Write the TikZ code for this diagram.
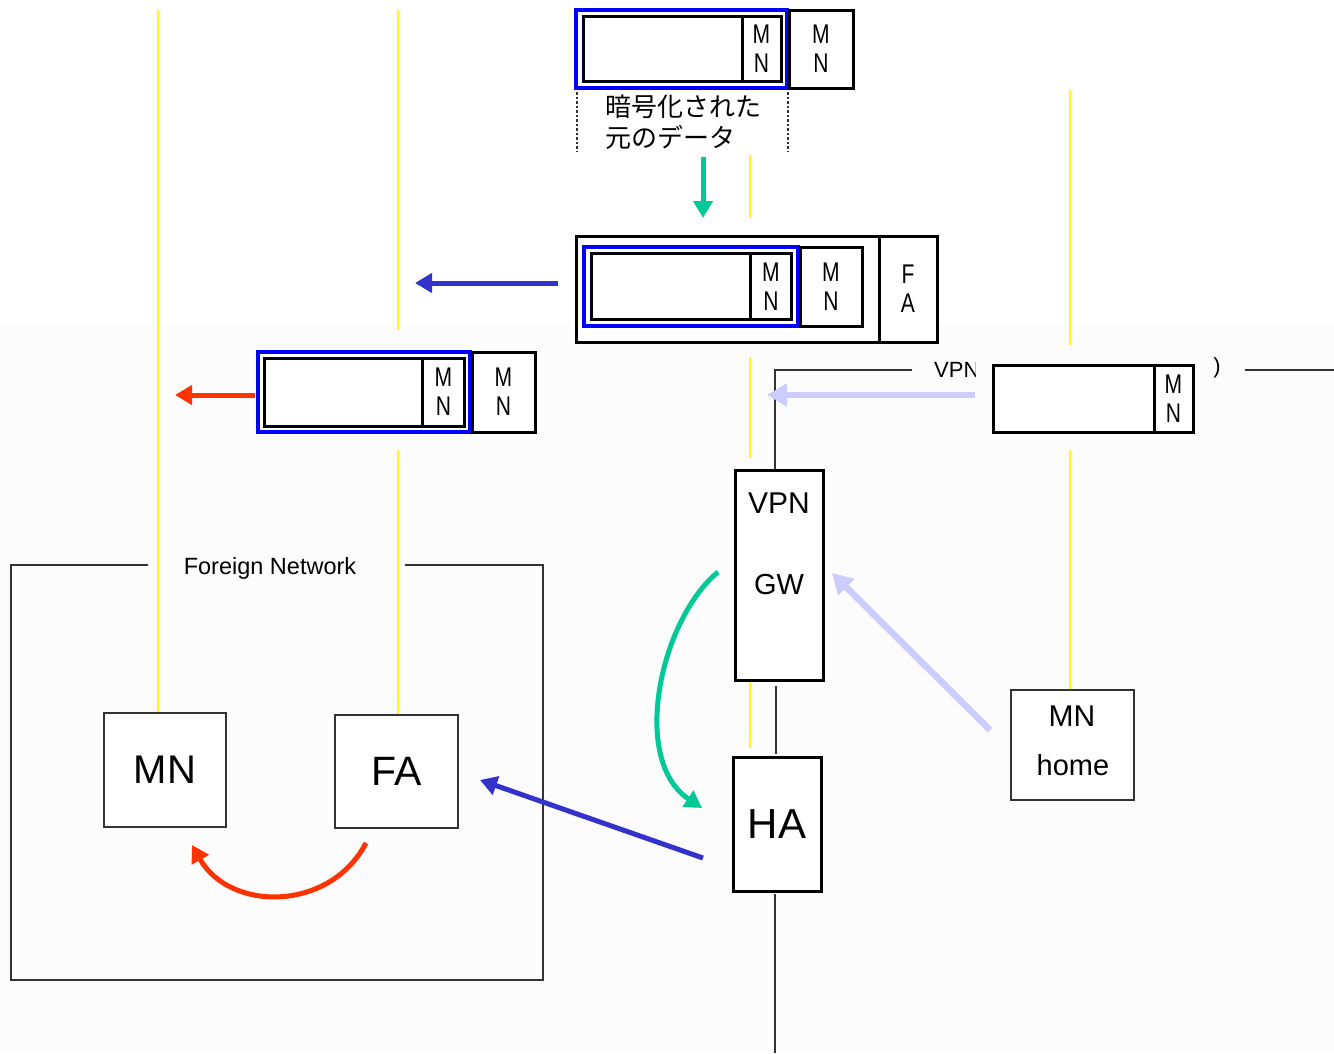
\documentclass[tikz,border=0pt]{standalone}
\usepackage{fontspec}
\setmainfont{Liberation Sans}
\newfontfamily\cjk{Noto Sans CJK JP}
\newfontfamily\narrowf[FakeStretch=0.78]{Liberation Sans}
\usetikzlibrary{arrows.meta}
\definecolor{pktblue}{HTML}{0000FF}
\definecolor{arrblue}{HTML}{3333CC}
\definecolor{arrred}{HTML}{FF3300}
\definecolor{arrgreen}{HTML}{00C896}
\definecolor{arrlav}{HTML}{CCCCFF}
\definecolor{ylw}{HTML}{FFFF00}
\definecolor{bgg}{HTML}{FCFCFC}
\definecolor{frm}{HTML}{333333}
\tikzset{
  thickbox/.style={draw=black, line width=3pt, fill=white, inner sep=0pt, outer sep=0pt},
  thinbox/.style={draw=frm, line width=1.6pt, fill=white, inner sep=0pt, outer sep=0pt},
  bluebox/.style={draw=pktblue, line width=3.5pt, fill=white, inner sep=0pt, outer sep=0pt},
  mnl/.style={font=\narrowf\fontsize{27}{29}\selectfont, align=center},
  yl/.style={draw=ylw, line width=1.6pt},
  net/.style={draw=frm, line width=1.6pt},
  tipA/.style={-{Triangle[length=17pt,width=19pt]}},
  bluearr/.style={tipA, draw=arrblue, fill=arrblue, line width=5pt},
  redarr/.style={tipA, draw=arrred, fill=arrred, line width=5pt},
  grnarr/.style={tipA, draw=arrgreen, fill=arrgreen, line width=5pt},
  lavarr/.style={-{Triangle[length=20pt,width=22pt]}, draw=arrlav, fill=arrlav, line width=6.5pt},
  lbl/.style={inner sep=0pt}
}
\begin{document}
\begin{tikzpicture}[x=1pt,y=-1pt]
\useasboundingbox (0,0) rectangle (1334,1053);
\fill[white] (0,0) rectangle (1334,1053);
\fill[bgg] (0,325) rectangle (1334,1053);

% ---- yellow lines
\draw[yl] (158,10) -- (158,713);
\draw[yl] (398,10) -- (398,330);
\draw[yl] (398,450) -- (398,715);
\draw[yl] (750,155) -- (750,218);
\draw[yl] (750,358) -- (750,458);
\draw[yl] (750,682) -- (750,748);
\draw[yl] (1070,90) -- (1070,345);
\draw[yl] (1070,450) -- (1070,690);

% ---- foreign network frame
\draw[net] (148,565) -- (11,565) -- (11,980) -- (543,980) -- (543,565) -- (405,565);
\node[lbl, font=\fontsize{23.5}{25}\selectfont] (fnlabel) at (270,568) {Foreign Network};

% ---- hosts
\node[thinbox, minimum width=122pt, minimum height=114pt, font=\fontsize{40}{44}\selectfont] (mn) at (165,770) {MN};
\node[thinbox, minimum width=123pt, minimum height=113pt, font=\fontsize{41}{44}\selectfont] (fa) at (396.5,771.5) {FA};
\node[thinbox, minimum width=123pt, minimum height=110pt] (mnhome) at (1072.5,745) {};
\node[lbl, font=\fontsize{30}{32}\selectfont] (mnhomeA) at (1072,716) {MN};
\node[lbl, font=\fontsize{29}{32}\selectfont] (mnhomeB) at (1073,765) {home};

% ---- network lines
\coordinate (vpnlineL) at (912,370);
\coordinate (vpnlineR) at (1245,370);
\coordinate (vpnlineE) at (1334,370);
\coordinate (haBottomLine) at (775,1053);
\coordinate (gwhaA) at (776,686);
\coordinate (gwhaB) at (776,754);
\node[thickbox, minimum width=88pt, minimum height=210pt] (gw) at (779,575) {};
\node[thickbox, minimum width=88pt, minimum height=134pt, font=\fontsize{42}{44}\selectfont] (ha) at (777,824) {HA};
\node[lbl, font=\fontsize{30}{32}\selectfont] (gwA) at (779,503) {VPN};
\node[lbl, font=\fontsize{29}{32}\selectfont] (gwB) at (779,585) {GW};
\draw[net] (vpnlineL) -- (775,370) -- (775,469);
\draw[net] (gwhaA) -- (gwhaB);
\draw[net] ([xshift=-2pt,yshift=-3pt]ha.south) -- (haBottomLine);
\draw[net] (vpnlineR) -- (vpnlineE);
\begin{scope}
\clip (920,350) rectangle (975,392);
\node[lbl, anchor=west, font=\fontsize{22}{24}\selectfont] (vpnlbl) at (934,370) {VPN};
\end{scope}
\node[lbl, font=\fontsize{22}{24}\selectfont] (paren) at (1217,368) {)};

% ---- top packet
\node[bluebox, minimum width=211pt, minimum height=78pt] (tblue) at (681.5,49) {};
\node[thickbox, minimum width=159pt, minimum height=65pt] (tdata) at (662.5,49) {};
\node[thickbox, minimum width=39pt, minimum height=65pt, mnl] (tmn1) at (761.5,49) {M\\N};
\node[thickbox, minimum width=64pt, minimum height=78pt, mnl] (tmn2) at (821,49) {M\\N};
\draw[frm, line width=2.5pt, dotted] (577,92) -- (577,152);
\draw[frm, line width=2.5pt, dotted] (788,92) -- (788,152);
\node[lbl, anchor=west, align=left, font=\cjk\fontsize{26}{31}\selectfont] (jtext) at (605,122) {暗号化された\\元のデータ};

% ---- middle packet
\node[thickbox, minimum width=361pt, minimum height=106pt] (mout) at (756.5,289) {};
\node[thickbox, minimum width=58pt, minimum height=106pt, mnl] (mfa) at (908,289) {F\\A};
\node[bluebox, minimum width=214pt, minimum height=79pt] (mblue) at (691,286.5) {};
\node[thickbox, minimum width=160pt, minimum height=66pt] (mdata) at (671,286.5) {};
\node[thickbox, minimum width=41pt, minimum height=66pt, mnl] (mmn1) at (771,286.5) {M\\N};
\node[thickbox, minimum width=62pt, minimum height=79pt, mnl] (mmn2) at (831,286.5) {M\\N};

% ---- left packet
\node[bluebox, minimum width=212pt, minimum height=80pt] (lblue) at (364,392) {};
\node[thickbox, minimum width=159pt, minimum height=68pt] (ldata) at (343.5,392) {};
\node[thickbox, minimum width=42pt, minimum height=68pt, mnl] (lmn1) at (443.5,392) {M\\N};
\node[thickbox, minimum width=63pt, minimum height=80pt, mnl] (lmn2) at (503.5,392) {M\\N};

% ---- right packet
\node[thickbox, minimum width=161pt, minimum height=67pt] (rdata) at (1073.5,398.5) {};
\node[thickbox, minimum width=39pt, minimum height=67pt, mnl] (rmn) at (1173.5,398.5) {M\\N};

% ---- arrows
\coordinate (gA) at (703,157);
\coordinate (gB) at (703,218);
\draw[grnarr] (gA) -- (gB);
\coordinate (bA) at (558,283);
\coordinate (bB) at (415,283);
\draw[bluearr] (bA) -- (bB);
\coordinate (rA) at (255,395);
\coordinate (rB) at (175,395);
\draw[redarr] (rA) -- (rB);
\coordinate (lA) at (975,395);
\coordinate (lB) at (767,395);
\draw[lavarr] (lA) -- (lB);
\coordinate (l2A) at (990,730);
\coordinate (l2B) at (832,573);
\draw[lavarr] (l2A) -- (l2B);
\coordinate (g2A) at (718,572);
\coordinate (g2B) at (702,808);
\draw[grnarr, fill=none] (g2A) .. controls (660,620) and (630,760) .. (g2B);
\coordinate (b2A) at (703,858);
\coordinate (b2B) at (480,780);
\draw[bluearr] (b2A) -- (b2B);
\coordinate (r2A) at (366,843);
\coordinate (r2B) at (192,845);
\draw[redarr, fill=none] (r2A) .. controls (330,912) and (230,912) .. (r2B);
\end{tikzpicture}
\end{document}
